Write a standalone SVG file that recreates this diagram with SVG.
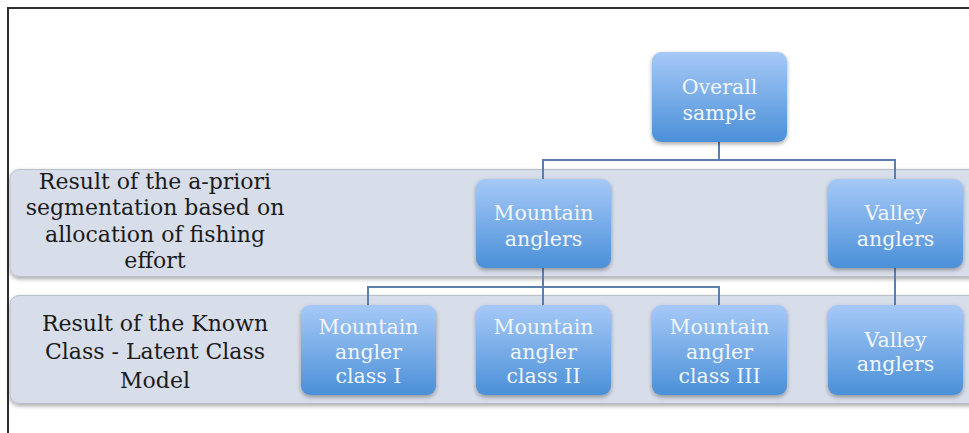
<svg xmlns="http://www.w3.org/2000/svg" width="969" height="433" viewBox="0 0 969 433">
<style>
.band{fill:#d7dde9;stroke:#b9c0cc;stroke-width:1}
.box{fill:url(#g)}
.lbl{font-family:"DejaVu Serif","Liberation Serif",serif;font-size:22px;fill:#1b1b1b;text-anchor:middle}
.bt{font-family:"DejaVu Serif","Liberation Serif",serif;font-size:20.5px;fill:#f2f6fc;text-anchor:middle}
.con{fill:none;stroke:#5a7faa;stroke-width:2}
</style>
<defs>
<linearGradient id="g" x1="0" y1="0" x2="0" y2="1">
<stop offset="0" stop-color="#a6c9f7"/>
<stop offset="1" stop-color="#4b90d8"/>
</linearGradient>
<filter id="sh" x="-10%" y="-10%" width="120%" height="130%">
<feGaussianBlur in="SourceAlpha" stdDeviation="2"/>
<feOffset dx="0" dy="2" result="b"/>
<feComponentTransfer><feFuncA type="linear" slope="0.35"/></feComponentTransfer>
<feMerge><feMergeNode/><feMergeNode in="SourceGraphic"/></feMerge>
</filter>
</defs>
<rect width="969" height="433" fill="#ffffff"/>
<path d="M8 433 V8 H969" fill="none" stroke="#2e2e2e" stroke-width="2"/>

<g id="band1">
<rect class="band" x="10" y="169.5" width="975" height="107" rx="9" filter="url(#sh)"/>
<text class="lbl" x="155" y="188.5">Result of the a-priori</text>
<text class="lbl" x="155" y="215">segmentation based on</text>
<text class="lbl" x="155" y="242">allocation of fishing</text>
<text class="lbl" x="155" y="268">effort</text>
</g>
<g id="band2">
<rect class="band" x="10" y="295.5" width="975" height="108" rx="9" filter="url(#sh)"/>
<text class="lbl" x="155" y="331">Result of the Known</text>
<text class="lbl" x="155" y="359">Class - Latent Class</text>
<text class="lbl" x="155" y="388">Model</text>
</g>

<g id="connectors">
<path class="con" d="M719 142 V160 M543 179 V160 H895 V179"/>
<path class="con" d="M543 268 V287 M368 305 V287 H719 V305 M543 287 V305"/>
<path class="con" d="M895 268 V305"/>
</g>

<g id="overall">
<rect class="box" x="652" y="52" width="135" height="90" rx="9" filter="url(#sh)"/>
<text class="bt" x="719.5" y="94">Overall</text>
<text class="bt" x="719.5" y="119.5">sample</text>
</g>
<g id="mountain">
<rect class="box" x="476" y="179" width="135" height="89" rx="9" filter="url(#sh)"/>
<text class="bt" x="543.5" y="220">Mountain</text>
<text class="bt" x="543.5" y="246">anglers</text>
</g>
<g id="valley">
<rect class="box" x="828" y="179" width="135" height="89" rx="9" filter="url(#sh)"/>
<text class="bt" x="895.5" y="220">Valley</text>
<text class="bt" x="895.5" y="246">anglers</text>
</g>
<g id="class1">
<rect class="box" x="301" y="305" width="135" height="90" rx="9" filter="url(#sh)"/>
<text class="bt" x="368.5" y="334">Mountain</text>
<text class="bt" x="368.5" y="358.5">angler</text>
<text class="bt" x="368.5" y="383">class I</text>
</g>
<g id="class2">
<rect class="box" x="476" y="305" width="135" height="90" rx="9" filter="url(#sh)"/>
<text class="bt" x="543.5" y="334">Mountain</text>
<text class="bt" x="543.5" y="358.5">angler</text>
<text class="bt" x="543.5" y="383">class II</text>
</g>
<g id="class3">
<rect class="box" x="652" y="305" width="135" height="90" rx="9" filter="url(#sh)"/>
<text class="bt" x="719.5" y="334">Mountain</text>
<text class="bt" x="719.5" y="358.5">angler</text>
<text class="bt" x="719.5" y="383">class III</text>
</g>
<g id="valley2">
<rect class="box" x="828" y="305" width="135" height="90" rx="9" filter="url(#sh)"/>
<text class="bt" x="895.5" y="346.5">Valley</text>
<text class="bt" x="895.5" y="371">anglers</text>
</g>
</svg>
